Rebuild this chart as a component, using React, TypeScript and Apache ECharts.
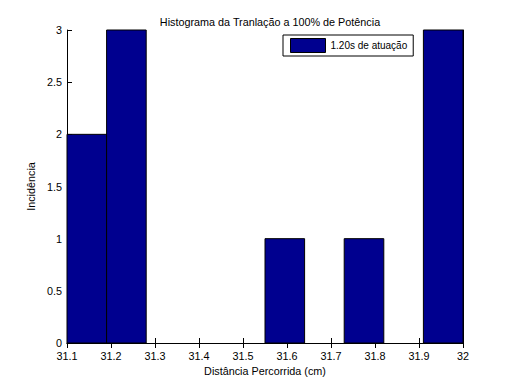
import React, { useEffect, useRef } from "react";
import * as echarts from "echarts";

const binStarts = [31.1, 31.19, 31.28, 31.37, 31.46, 31.55, 31.64, 31.73, 31.82, 31.91];
const binEnds = [31.19, 31.28, 31.37, 31.46, 31.55, 31.64, 31.73, 31.82, 31.91, 32.0];
const counts = [2, 3, 0, 0, 0, 1, 0, 1, 0, 3];
const seriesName = "1.20s de atuação";
const titleText = "Histograma da Tranlação a 100% de Potência";
const xName = "Distância Percorrida (cm)";
const yName = "Incidência";

const FONT = "Liberation Sans, Arial, Helvetica, sans-serif";
const BAR = "#00008F";

export default function App() {
  const ref = useRef<HTMLDivElement>(null);
  useEffect(() => {
    if (!ref.current) return;
    const chart = echarts.init(ref.current, undefined, { renderer: "svg" });
    const data = binStarts.map((s, i) => [s, binEnds[i], counts[i]]);
    const axisCommon = {
      axisLine: { show: true, lineStyle: { color: "#000", width: 1 } },
      axisTick: { show: true, inside: true, length: 5, lineStyle: { color: "#000" } },
      splitLine: { show: false },
    };
    chart.setOption({
      animation: false,
      backgroundColor: "#fff",
      title: {
        text: titleText,
        left: 265,
        textAlign: "center",
        top: 11,
        textStyle: { fontFamily: FONT, fontSize: 10.8, fontWeight: "normal", color: "#000" },
      },
      legend: {
        left: 283,
        top: 35,
        orient: "vertical",
        backgroundColor: "#fff",
        borderColor: "#000",
        borderWidth: 1,
        borderRadius: 0,
        padding: [3, 6, 3, 7],
        itemWidth: 35,
        itemHeight: 14,
        itemGap: 5,
        textStyle: { fontFamily: FONT, fontSize: 10, color: "#000" },
        data: [
          {
            name: seriesName,
            icon: "rect",
            itemStyle: { color: BAR, borderColor: "#000", borderWidth: 1 },
          },
        ],
      },
      grid: { left: 67, right: 49, top: 30, bottom: 41, containLabel: false },
      xAxis: [
        {
          type: "value",
          min: 31.1,
          max: 32,
          interval: 0.1,
          name: xName,
          nameLocation: "middle",
          nameGap: 21,
          nameTextStyle: { fontFamily: FONT, fontSize: 10.8, color: "#000" },
          axisLabel: { fontFamily: FONT, fontSize: 10.8, color: "#000", margin: 7 },
          ...axisCommon,
        },
        {
          type: "value",
          position: "top",
          min: 31.1,
          max: 32,
          interval: 0.1,
          axisLabel: { show: false },
          ...axisCommon,
        },
      ],
      yAxis: [
        {
          type: "value",
          min: 0,
          max: 3,
          interval: 0.5,
          name: yName,
          nameLocation: "middle",
          nameGap: 24,
          nameTextStyle: { fontFamily: FONT, fontSize: 10.8, color: "#000" },
          axisLabel: { fontFamily: FONT, fontSize: 10.8, color: "#000", margin: 5 },
          ...axisCommon,
        },
        {
          type: "value",
          position: "right",
          min: 0,
          max: 3,
          interval: 0.5,
          axisLabel: { show: false },
          ...axisCommon,
        },
      ],
      series: [
        {
          name: seriesName,
          type: "custom",
          xAxisIndex: 0,
          yAxisIndex: 0,
          itemStyle: { color: BAR, borderColor: "#000", borderWidth: 1 },
          encode: { x: [0, 1], y: 2 },
          data,
          renderItem: (params: any, api: any) => {
            if (!api.value(2)) return null;
            const p0 = api.coord([api.value(0), 0]);
            const p1 = api.coord([api.value(1), api.value(2)]);
            return {
              type: "rect",
              shape: { x: p0[0], y: p1[1], width: p1[0] - p0[0], height: p0[1] - p1[1] },
              style: { fill: BAR, stroke: "#000", lineWidth: 1 },
            };
          },
        },
      ],
    });
    return () => chart.dispose();
  }, []);
  return (
    <div
      ref={ref}
      style={{ position: "fixed", left: 0, top: 0, width: 512, height: 384, background: "#fff" }}
    />
  );
}
